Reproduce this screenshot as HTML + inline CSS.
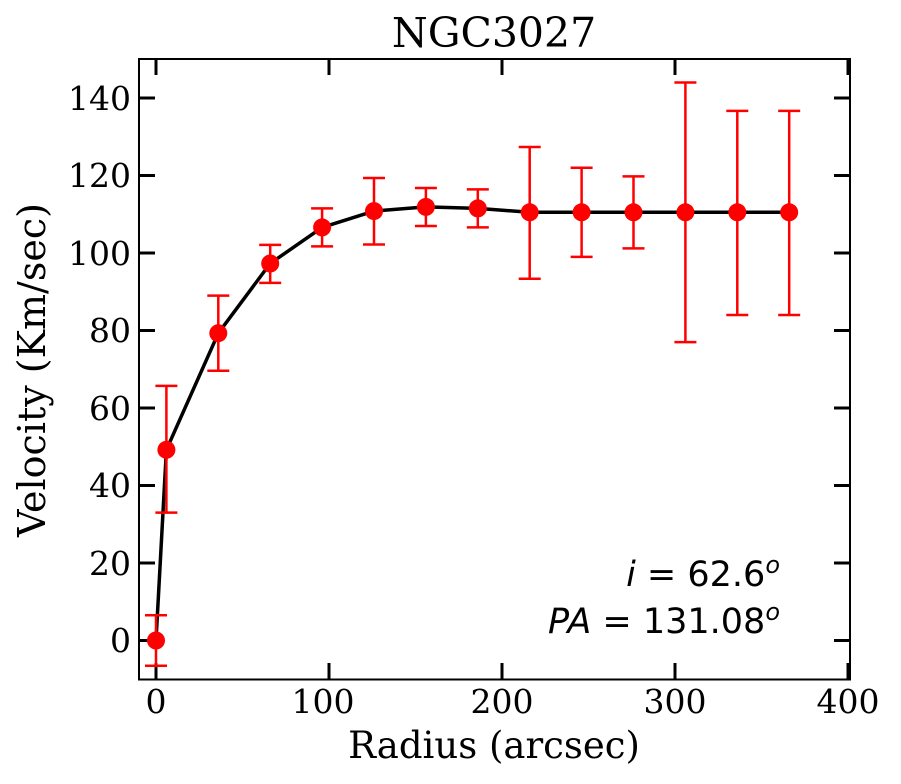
<!DOCTYPE html><html><head><meta charset="utf-8"><style>body{margin:0;background:#fff}svg{display:block}</style></head><body>
<svg width="901" height="784" xmlns="http://www.w3.org/2000/svg">
<rect width="901" height="784" fill="#fff"/>
<g font-family="DejaVu Serif, Liberation Serif, serif" fill="#000">
<text x="494" y="47" text-anchor="middle" style="font-size:41px">NGC3027</text>
<text x="494" y="758" text-anchor="middle" style="font-size:37px">Radius (arcsec)</text>
<text transform="translate(45,370) rotate(-90)" text-anchor="middle" style="font-size:38px">Velocity (Km/sec)</text>
<g text-anchor="middle" style="font-size:33px">
<text x="156" y="713">0</text><text x="323" y="713">100</text><text x="502" y="713">200</text><text x="675" y="713">300</text><text x="848" y="713">400</text>
</g>
<g text-anchor="end" style="font-size:33px">
<text x="131" y="652">0</text><text x="131" y="575">20</text><text x="131" y="497">40</text><text x="131" y="420">60</text><text x="131" y="342">80</text><text x="131" y="265">100</text><text x="131" y="187">120</text><text x="131" y="110">140</text>
</g>
</g>
<g stroke="#000" stroke-width="3">
<path d="M156,679v-16M329,679v-16M502,679v-16M675,679v-16M848,679v-16M156,59v16M329,59v16M502,59v16M675,59v16M848,59v16"/>
<path d="M139,640.5h16M139,563h16M139,485.5h16M139,408h16M139,330.5h16M139,253h16M139,175.5h16M139,98h16M850,640.5h-16M850,563h-16M850,485.5h-16M850,408h-16M850,330.5h-16M850,253h-16M850,175.5h-16M850,98h-16"/>
</g>
<rect x="139" y="59" width="711" height="620.5" fill="none" stroke="#000" stroke-width="2"/>
<polyline fill="none" stroke="#000" stroke-width="3.5" stroke-linejoin="round" points="156,640.5 166.4,449.8 218.3,333.2 270.2,263.5 322.1,227.4 374,211.1 425.9,206.9 477.8,208.4 529.7,212.3 581.6,212.3 633.5,212.3 685.4,212.3 737.3,212.3 789.2,212.3"/>
<g stroke="#f00" stroke-width="2.5" fill="none">
<path d="M156,615.3V665.7M145,615.3h22M145,665.7h22"/>
<path d="M166.4,385.9V512.6M155.4,385.9h22M155.4,512.6h22"/>
<path d="M218.3,295.6V370.8M207.3,295.6h22M207.3,370.8h22"/>
<path d="M270.2,244.9V282.9M259.2,244.9h22M259.2,282.9h22"/>
<path d="M322.1,208.4V246.4M311.1,208.4h22M311.1,246.4h22"/>
<path d="M374,178V244.5M363,178h22M363,244.5h22"/>
<path d="M425.9,188V226M414.9,188h22M414.9,226h22"/>
<path d="M477.8,189.4V227.4M466.8,189.4h22M466.8,227.4h22"/>
<path d="M529.7,147V278.8M518.7,147h22M518.7,278.8h22"/>
<path d="M581.6,167.7V256.9M570.6,167.7h22M570.6,256.9h22"/>
<path d="M633.5,176.4V248.4M622.5,176.4h22M622.5,248.4h22"/>
<path d="M685.4,82.5V342.1M674.4,82.5h22M674.4,342.1h22"/>
<path d="M737.3,110.9V315M726.3,110.9h22M726.3,315h22"/>
<path d="M789.2,110.9V315M778.2,110.9h22M778.2,315h22"/>
</g>
<g fill="#f00">
<circle cx="156" cy="640.5" r="9"/><circle cx="166.4" cy="449.8" r="9"/><circle cx="218.3" cy="333.2" r="9"/><circle cx="270.2" cy="263.5" r="9"/><circle cx="322.1" cy="227.4" r="9"/><circle cx="374" cy="211.1" r="9"/><circle cx="425.9" cy="206.9" r="9"/><circle cx="477.8" cy="208.4" r="9"/><circle cx="529.7" cy="212.3" r="9"/><circle cx="581.6" cy="212.3" r="9"/><circle cx="633.5" cy="212.3" r="9"/><circle cx="685.4" cy="212.3" r="9"/><circle cx="737.3" cy="212.3" r="9"/><circle cx="789.2" cy="212.3" r="9"/>
</g>
<g font-family="DejaVu Sans, Liberation Sans, sans-serif" text-anchor="end" fill="#000" style="font-size:35px">
<text x="780" y="586"><tspan font-style="italic">i</tspan> = 62.6<tspan font-style="italic" style="font-size:24px" dy="-13">o</tspan></text>
<text x="780" y="633"><tspan font-style="italic">PA</tspan> = 131.08<tspan font-style="italic" style="font-size:24px" dy="-13">o</tspan></text>
</g>
</svg>
</body></html>
